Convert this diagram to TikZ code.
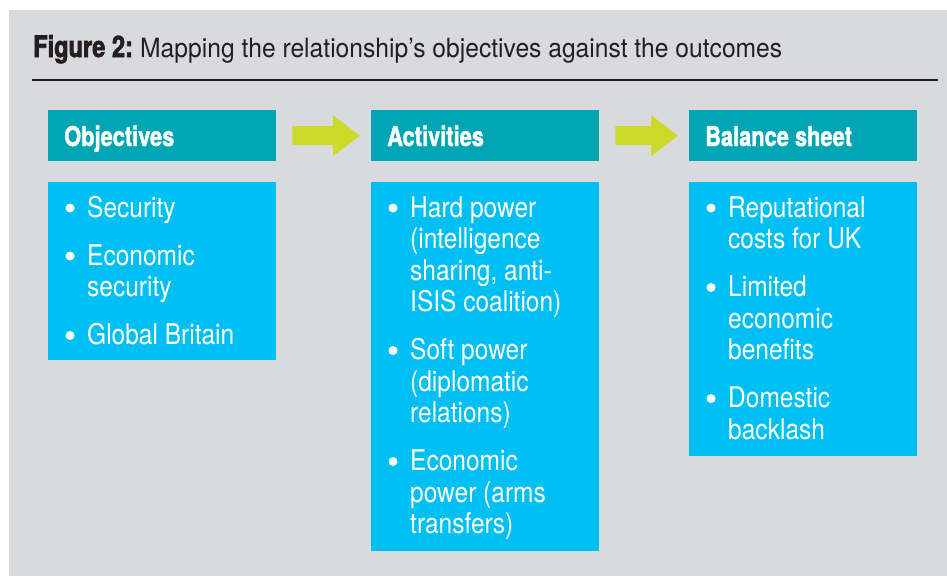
\documentclass[tikz,border=0pt]{standalone}
\usepackage{fontspec}
\setmainfont{TeX Gyre Heros}
\newfontfamily\bodyfont{TeX Gyre Heros}[FakeStretch=0.86]
\newfontfamily\headfont{TeX Gyre Heros}[FakeStretch=0.80,BoldFont={* Bold},BoldFeatures={FakeBold=1.4}]
\newfontfamily\titlefont{TeX Gyre Heros}[FakeStretch=0.93]
\newfontfamily\figfont{TeX Gyre Heros}[FakeStretch=0.80,BoldFont={* Bold},BoldFeatures={FakeBold=2.2}]
\usetikzlibrary{calc}
\definecolor{bgc}{HTML}{D9DADE}
\definecolor{headc}{HTML}{00A5B3}
\definecolor{bodyc}{HTML}{00BFF3}
\definecolor{arrowc}{HTML}{CCDA2A}
\definecolor{titlec}{HTML}{231F20}
\tikzset{
  headbox/.style={fill=headc, draw=none, minimum width=228pt, minimum height=51pt, inner sep=0pt, anchor=north west},
  bodybox/.style={fill=bodyc, draw=none, minimum width=228pt, inner sep=0pt, anchor=north west},
  headtxt/.style={anchor=base west, inner sep=0pt, text=white, font=\headfont\bfseries\fontsize{27.3}{30}\selectfont},
  bodytxt/.style={anchor=base west, inner sep=0pt, text=white, font=\bodyfont\fontsize{28.5}{31.5}\selectfont},
  bul/.style={circle, fill=white, minimum size=9pt, inner sep=0pt},
  flowarrow/.style={fill=arrowc},
}
\begin{document}
\begin{tikzpicture}[x=1pt,y=-1pt]
\useasboundingbox (0,0) rectangle (947,576);
\fill[bgc] (9,10) rectangle (947,576);
% title
\node[anchor=base west, inner sep=0pt, text=titlec, font=\figfont\bfseries\fontsize{29.5}{30}\selectfont] (fig) at (33,57) {Figure 2:};
\node[anchor=base west, inner sep=0pt, text=titlec, font=\titlefont\fontsize{26.5}{30}\selectfont] (title) at (140,57) {Mapping the relationship’s objectives against the outcomes};
\coordinate (ruleL) at (32,80);
\coordinate (ruleR) at (938,80);
\draw[titlec, line width=1.4pt] (ruleL) -- (ruleR);
% headers
\node[headbox] (oh) at (48,110) {};
\node[headbox] (ah) at (371,110) {};
\node[headbox] (bh) at (689,110) {};
\node[headtxt] (oht) at (64,146) {Objectives};
\node[headtxt] (aht) at (387,146) {Activities};
\node[headtxt] (bht) at (705,146) {Balance sheet};
% arrows
\foreach \a/\b in {oh/ah, ah/bh}{
  \fill[flowarrow] ($(\a.east)+(16,-9.5)$) -- ($(\b.west)+(-38,-9.5)$) -- ($(\b.west)+(-38,-20.5)$)
    -- ($(\b.west)+(-11,0)$) -- ($(\b.west)+(-38,20.5)$) -- ($(\b.west)+(-38,9.5)$)
    -- ($(\a.east)+(16,9.5)$) -- cycle;
}
% bodies
\node[bodybox, minimum height=178pt] (ob) at (48,182) {};
\node[bodybox, minimum height=369pt] (ab) at (371,182) {};
\node[bodybox, minimum height=274pt] (bb) at (689,182) {};
% objectives
\node[bul] (ob1) at (70,208) {};
\node[bodytxt] (o1a) at (87,217) {Security};
\node[bul] (ob2) at (70,256) {};
\node[bodytxt] (o2a) at (87,265) {Economic};
\node[bodytxt] (o2b) at (87,296.5) {security};
\node[bul] (ob3) at (70,335.5) {};
\node[bodytxt] (o3a) at (87,344.5) {Global Britain};
% activities
\node[bul] (ab1) at (393,208) {};
\node[bodytxt] (a1a) at (410,217) {Hard power};
\node[bodytxt] (a1b) at (410,248.5) {(intelligence};
\node[bodytxt] (a1c) at (410,280) {sharing, anti-};
\node[bodytxt] (a1d) at (410,311.5) {ISIS coalition)};
\node[bul] (ab2) at (393,350.5) {};
\node[bodytxt] (a2a) at (410,359.5) {Soft power};
\node[bodytxt] (a2b) at (410,391) {(diplomatic};
\node[bodytxt] (a2c) at (410,422.5) {relations)};
\node[bul] (ab3) at (393,461.5) {};
\node[bodytxt] (a3a) at (410,470.5) {Economic};
\node[bodytxt] (a3b) at (410,502) {power (arms};
\node[bodytxt] (a3c) at (410,533.5) {transfers)};
% balance
\node[bul] (bb1) at (711,208) {};
\node[bodytxt] (b1a) at (728,217) {Reputational};
\node[bodytxt] (b1b) at (728,248.5) {costs for UK};
\node[bul] (bb2) at (711,287.5) {};
\node[bodytxt] (b2a) at (728,296.5) {Limited};
\node[bodytxt] (b2b) at (728,328) {economic};
\node[bodytxt] (b2c) at (728,359.5) {benefits};
\node[bul] (bb3) at (711,398.5) {};
\node[bodytxt] (b3a) at (728,407.5) {Domestic};
\node[bodytxt] (b3b) at (728,439) {backlash};
\end{tikzpicture}
\end{document}
